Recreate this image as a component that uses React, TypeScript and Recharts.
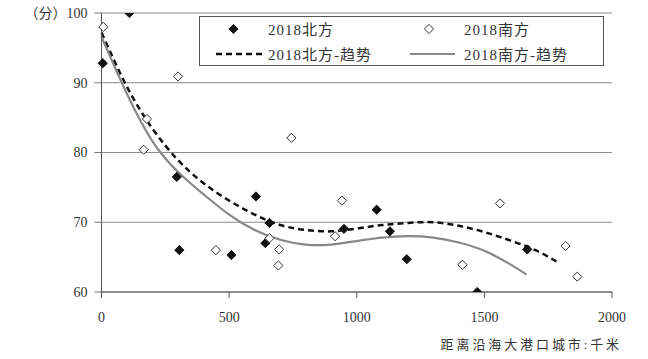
import { ComposedChart, XAxis, YAxis, CartesianGrid, Scatter, Line } from 'recharts';

// 散点：北方 / 南方 (距离 km, 分)
const northX = [5, 109, 295, 305, 509, 605, 642, 658, 950, 1078, 1130, 1196, 1472, 1668];
const northY = [92.8, 100, 76.5, 66.0, 65.3, 73.7, 67.0, 69.9, 69.05, 71.8, 68.7, 64.7, 60, 66.1];
const southX = [7, 165, 178, 300, 448, 658, 693, 696, 744, 915, 942, 1414, 1561, 1818, 1864];
const southY = [98.0, 80.4, 84.8, 90.9, 66.0, 67.7, 63.8, 66.1, 82.1, 68.0, 73.1, 63.9, 72.7, 66.6, 62.2];

// 趋势线
const northTrendX = [0, 100, 200, 300, 400, 500, 600, 700, 800, 900, 1000, 1100, 1200, 1300, 1400, 1500, 1600, 1700, 1790];
const northTrendY = [97.2, 89.4, 83.4, 78.9, 75.6, 73.1, 71.1, 69.6, 68.9, 68.7, 69.1, 69.6, 69.9, 70.0, 69.5, 68.6, 67.4, 66.0, 64.2];
const southTrendX = [0, 100, 200, 300, 400, 500, 600, 700, 800, 900, 1000, 1100, 1200, 1300, 1400, 1500, 1600, 1665];
const southTrendY = [96.6, 88.4, 81.6, 77.2, 74.0, 71.1, 68.9, 67.5, 66.8, 66.8, 67.3, 67.8, 68.0, 67.8, 67.1, 65.9, 64.0, 62.5];

const xTicks = [0, 500, 1000, 1500, 2000];
const yTicks = [60, 70, 80, 90, 100];

const northData = northX.map((x, i) => ({ x, y: northY[i] }));
const southData = southX.map((x, i) => ({ x, y: southY[i] }));
const northTrend = northTrendX.map((x, i) => ({ x, y: northTrendY[i] }));
const southTrend = southTrendX.map((x, i) => ({ x, y: southTrendY[i] }));

const FONT = "'Liberation Serif', 'Noto Sans CJK SC', serif";

const Diamond = (props: any) => {
    const { cx, cy, filled } = props;
    const r = 4.6;
    return (
        <polygon
            points={`${cx},${cy - r} ${cx + r},${cy} ${cx},${cy + r} ${cx - r},${cy}`}
            fill={filled ? '#111' : '#fff'}
            stroke={filled ? '#111' : '#333'}
            strokeWidth={1}
        />
    );
};

export default function App() {
    const tick = { fill: '#333', fontSize: 14, fontFamily: FONT };
    const legendText = { position: 'absolute' as const, whiteSpace: 'nowrap' as const, letterSpacing: 1 };
    return (
        <div style={{ position: 'absolute', left: 0, top: 0, width: 648, height: 359, background: '#fff', fontFamily: FONT }}>
            <ComposedChart width={648} height={359} margin={{ top: 13, right: 36, bottom: 37, left: 0 }}>
                <CartesianGrid vertical={false} stroke="#8a8a8a" />
                <XAxis
                    type="number"
                    dataKey="x"
                    domain={[0, 2000]}
                    ticks={xTicks}
                    height={30}
                    tickSize={6}
                    tickMargin={14}
                    axisLine={{ stroke: '#555' }}
                    tickLine={{ stroke: '#555' }}
                    tick={tick}
                />
                <YAxis
                    type="number"
                    dataKey="y"
                    domain={[60, 100]}
                    ticks={yTicks}
                    allowDataOverflow
                    width={101.5}
                    tickSize={7}
                    tickMargin={7}
                    axisLine={{ stroke: '#555' }}
                    tickLine={{ stroke: '#777' }}
                    tick={tick}
                    tickFormatter={(v: number) => (v === 100 ? '（分）100' : String(v))}
                />
                <Scatter data={northData} dataKey="y" isAnimationActive={false} shape={(p: any) => <Diamond {...p} filled />} />
                <Scatter data={southData} dataKey="y" isAnimationActive={false} shape={(p: any) => <Diamond {...p} />} />
                <Line data={northTrend} dataKey="y" type="natural" stroke="#111" strokeWidth={2.5} strokeDasharray="6 4" dot={false} activeDot={false} isAnimationActive={false} />
                <Line data={southTrend} dataKey="y" type="natural" stroke="#888" strokeWidth={2.2} dot={false} activeDot={false} isAnimationActive={false} />
            </ComposedChart>

            {/* 图例 */}
            <div style={{ position: 'absolute', left: 199, top: 16, width: 403, height: 48, border: '1px solid #555', background: '#fff', fontSize: 15, color: '#333' }}>
                <svg width={403} height={48} style={{ position: 'absolute', left: 0, top: 0 }}>
                    <Diamond cx={33.5} cy={12} filled />
                    <Diamond cx={229} cy={12} />
                    <line x1={16} y1={37} x2={62} y2={37} stroke="#111" strokeWidth={2.5} strokeDasharray="6 4" />
                    <line x1={210} y1={37} x2={255} y2={37} stroke="#888" strokeWidth={2.2} />
                </svg>
                <div style={{ ...legendText, left: 68, top: 1 }}>2018北方</div>
                <div style={{ ...legendText, left: 264, top: 1 }}>2018南方</div>
                <div style={{ ...legendText, left: 68, top: 26 }}>2018北方-趋势</div>
                <div style={{ ...legendText, left: 264, top: 26 }}>2018南方-趋势</div>
            </div>

            <div style={{ position: 'absolute', right: 26, top: 334, fontSize: 13, letterSpacing: 2.9, color: '#333', whiteSpace: 'nowrap' }}>
                距离沿海大港口城市:千米
            </div>
        </div>
    );
}
